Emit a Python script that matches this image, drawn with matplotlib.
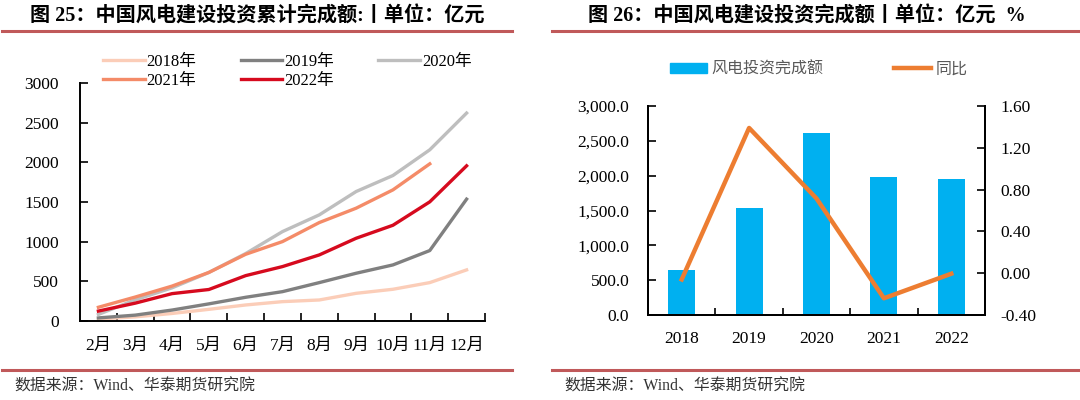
import matplotlib
matplotlib.use("Agg")
import matplotlib.pyplot as plt
from matplotlib.lines import Line2D
from matplotlib.patches import Patch

# 图25 数据: 风电建设投资累计完成额 (亿元)
months = ["2月", "3月", "4月", "5月", "6月", "7月", "8月", "9月", "10月", "11月", "12月"]
y2018 = [25, 52, 95, 147, 202, 244, 265, 349, 400, 484, 644]
y2019 = [39, 74, 138, 216, 299, 370, 484, 602, 707, 888, 1536]
y2020 = [83, 267, 418, 612, 850, 1127, 1338, 1632, 1834, 2158, 2621]
y2021 = [173, 302, 440, 612, 841, 1001, 1241, 1422, 1653, 1981]
y2022 = [125, 225, 345, 397, 572, 686, 833, 1043, 1207, 1502, 1956]

# 图26 数据: 年度完成额与同比
years = ["2018", "2019", "2020", "2021", "2022"]
invest = [640, 1543, 2618, 1982, 1959]
yoy = [-0.06, 1.39, 0.715, -0.24, -0.005]

W, H = 1080, 400
serif_cjk = ["Liberation Serif", "Noto Sans CJK SC"]
sans_cjk = ["Noto Sans CJK SC", "DejaVu Sans"]
line_red = "#C0595A"
fs = 12.5

fig = plt.figure(figsize=(W / 100, H / 100), dpi=100)


def box(l, t, r, b):
    return [l / W, 1 - b / H, (r - l) / W, (b - t) / H]


def header(x0, x1, tx, title):
    fig.text(tx / W, 1 - 17 / H, title, family=serif_cjk, weight="bold",
             fontsize=14.5, ha="left", va="center", color="black")
    fig.add_artist(Line2D([x0 / W, x1 / W], [1 - 31 / H, 1 - 31 / H],
                          color=line_red, lw=2.2))
    fig.add_artist(Line2D([x0 / W, x1 / W], [1 - 370 / H, 1 - 370 / H],
                          color=line_red, lw=2.2))
    fig.text((x0 + 12) / W, 1 - 387 / H, "数据来源：Wind、华泰期货研究院",
             family=serif_cjk, fontsize=11.4, ha="left", va="center",
             color="#333333")


# ---------- 左图 ----------
header(2, 512, 30, "图 25：中国风电建设投资累计完成额:丨单位：亿元")
ax = fig.add_axes(box(80, 83, 485, 321))
x = list(range(len(months)))
l18, = ax.plot(x, y2018, color="#FBCDB8", lw=2.4)
l19, = ax.plot(x, y2019, color="#808080", lw=2.4)
l20, = ax.plot(x, y2020, color="#BEBEBE", lw=2.4)
l21, = ax.plot(x[:len(y2021)], y2021, color="#F48B68", lw=2.4)
l22, = ax.plot(x, y2022, color="#D60A1E", lw=2.4)
ax.set_xlim(-0.5, len(months) - 0.5)
ax.set_ylim(0, 3000)
ax.set_yticks(range(0, 3001, 500))
ax.set_xticks(x)
ax.set_xticklabels(months, family=serif_cjk, fontsize=fs)
ax.set_xticks([i + 0.5 for i in x], minor=True)
ax.tick_params(axis="x", which="major", length=0, pad=12)
ax.tick_params(axis="x", which="minor", direction="in", length=6, width=1.2)
ax.tick_params(axis="y", direction="in", length=6, width=1.2, pad=15)
for lab in ax.get_yticklabels():
    lab.set_family(serif_cjk)
    lab.set_fontsize(fs)
for s in ["top", "right"]:
    ax.spines[s].set_visible(False)
for s in ["left", "bottom"]:
    ax.spines[s].set_linewidth(1.4)
# 按行排列: 2018 2019 2020 / 2021 2022
fig.legend([l18, l21, l19, l22, l20],
           ["2018年", "2021年", "2019年", "2022年", "2020年"],
           ncol=3, loc="center left", bbox_to_anchor=(103 / W, 1 - 71.5 / H),
           frameon=False, prop={"family": serif_cjk, "size": 12},
           handlelength=2.5, handletextpad=0.12, columnspacing=2.65,
           labelspacing=0.2, borderpad=0, borderaxespad=0)

# ---------- 右图 ----------
header(552, 1080, 588, "图 26：中国风电建设投资完成额丨单位：亿元  %")
ax2 = fig.add_axes(box(648, 106, 985, 315))
xb = list(range(len(years)))
ax2.bar(xb, invest, width=0.4, color="#00B0F0", zorder=2)
ax2.set_xlim(-0.5, len(years) - 0.5)
ax2.set_ylim(0, 3000)
ax2.set_yticks(range(0, 3001, 500))
ax2.set_yticklabels([f"{v:,.1f}" for v in range(0, 3001, 500)],
                    family=serif_cjk, fontsize=fs)
ax2.set_xticks(xb)
ax2.set_xticklabels(years, family=serif_cjk, fontsize=fs)
ax2.set_xticks([i + 0.5 for i in xb[:-1]], minor=True)
ax2.tick_params(axis="x", which="major", length=0, pad=11.5)
ax2.tick_params(axis="x", which="minor", direction="in", length=5, width=1.2)
ax2.tick_params(axis="y", direction="in", length=6, width=1.2, pad=13.5)
ax2.spines["top"].set_visible(False)
for s in ["left", "bottom", "right"]:
    ax2.spines[s].set_linewidth(1.4)

ax3 = ax2.twinx()
ax3.plot(xb, yoy, color="#ED7D31", lw=3.2, zorder=3)
ax3.set_ylim(-0.4, 1.6)
yt = [-0.4, 0.0, 0.4, 0.8, 1.2, 1.6]
ax3.set_yticks(yt)
ax3.set_yticklabels([f"{v:.2f}" for v in yt], family=serif_cjk, fontsize=fs)
ax3.tick_params(axis="y", direction="in", length=6, width=1.2, pad=10.8)
ax3.spines["top"].set_visible(False)
for s in ["left", "bottom", "right"]:
    ax3.spines[s].set_linewidth(1.4)

handles = [Patch(color="#00B0F0"), Line2D([], [], color="#ED7D31", lw=3.2)]
leg = fig.legend(handles, ["风电投资完成额", "同比"], ncol=2, frameon=False,
                 loc="center left", bbox_to_anchor=(670 / W, 1 - 69 / H),
                 prop={"family": sans_cjk, "size": 11.5}, handlelength=2.3,
                 handleheight=0.56, handletextpad=0.3, columnspacing=4.4,
                 borderpad=0, borderaxespad=0)
for t in leg.get_texts():
    t.set_color("#595959")

fig.savefig("out.png", dpi=100, facecolor="white")
